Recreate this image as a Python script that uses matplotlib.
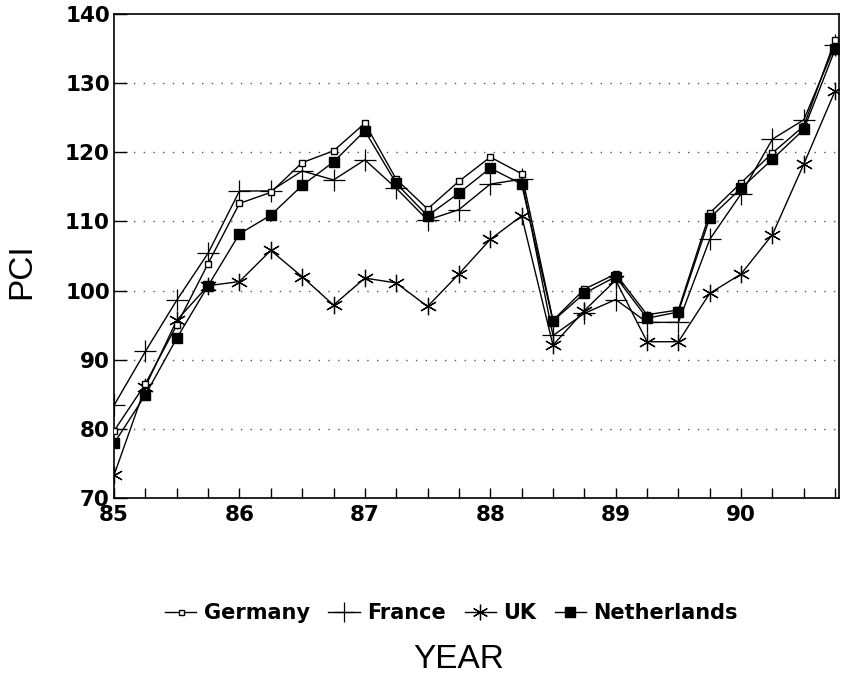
import numpy as np
import matplotlib
matplotlib.use('Agg')
import matplotlib.pyplot as plt

plt.rcParams['font.family'] = ['Liberation Sans', 'DejaVu Sans']

# --- DADOS TRIMESTRAIS (PCI) ---
quarters = [85.0, 85.25, 85.5, 85.75, 86.0, 86.25, 86.5, 86.75,
            87.0, 87.25, 87.5, 87.75, 88.0, 88.25, 88.5, 88.75,
            89.0, 89.25, 89.5, 89.75, 90.0, 90.25, 90.5, 90.75]

germany = [79.7, 86.5, 95.0, 103.9, 112.6, 114.2, 118.5, 120.2,
           124.2, 116.1, 111.8, 115.8, 119.3, 116.9, 95.7, 100.2,
           102.4, 96.5, 97.2, 111.2, 115.6, 119.9, 123.8, 136.3]

france = [83.4, 91.2, 98.6, 105.4, 114.4, 114.4, 117.3, 116.0,
          118.9, 114.8, 110.2, 111.7, 115.4, 116.1, 93.5, 96.7,
          98.7, 95.4, 95.4, 107.4, 114.0, 121.9, 124.7, 135.5]

uk = [73.3, 86.1, 95.7, 100.7, 101.3, 105.8, 102.0, 97.9,
      101.8, 101.1, 97.7, 102.4, 107.4, 110.8, 92.1, 97.1,
      101.5, 92.6, 92.6, 99.6, 102.4, 108.1, 118.3, 128.9]

netherlands = [77.9, 84.9, 93.1, 100.7, 108.2, 110.9, 115.2, 118.6,
               123.1, 115.5, 110.8, 114.1, 117.7, 115.4, 95.6, 99.6,
               102.0, 96.0, 96.9, 110.5, 114.8, 119.0, 123.3, 134.9]

year_ticks = [85, 86, 87, 88, 89, 90]
pci_ticks = [70, 80, 90, 100, 110, 120, 130, 140]

# --- GRAFICO ---
fig = plt.figure(figsize=(8.44, 6.78), dpi=100)
ax = fig.add_axes([0.1351, 0.2655, 0.8589, 0.7139])

ax.plot(quarters, germany, color='black', lw=1.0, marker='s', ms=4,
        mfc='white', mec='black', mew=1.0, label='Germany', zorder=4)
ax.plot(quarters, france, color='black', lw=1.0, marker='+', ms=16,
        mew=0.9, label='France', zorder=3)
ax.plot(quarters, uk, color='black', lw=1.0, marker=(6, 2, 0), ms=12.5,
        mew=0.9, label='UK', zorder=3)
ax.plot(quarters, netherlands, color='black', lw=1.0, marker='s', ms=7.5,
        mfc='black', mec='black', label='Netherlands', zorder=5)

ax.set_xlim(85, 90.78)
ax.set_ylim(70, 140)
ax.set_xticks(year_ticks)
ax.set_xticklabels([str(y) for y in year_ticks])
ax.set_xticks(quarters, minor=True)
ax.set_yticks(pci_ticks)

ax.tick_params(axis='x', which='both', direction='in', length=7, width=1,
               top=False, pad=5)
ax.tick_params(axis='y', which='major', direction='in', length=9, width=1,
               right=False, pad=3)
# rotulos dos eixos em negrito largo
for lbl in ax.get_xticklabels() + ax.get_yticklabels():
    lbl.set_fontfamily('DejaVu Sans')
    lbl.set_fontweight('bold')
    lbl.set_fontsize(15.5)

# grade pontilhada horizontal
for v in pci_ticks[1:-1]:
    ax.axhline(v, color='#555555', lw=1.0, linestyle=(0, (1, 6)), zorder=1)

for s in ax.spines.values():
    s.set_linewidth(1.2)

fig.text(0.026, 0.60, 'PCI', rotation=90, fontsize=24,
         ha='center', va='center')
fig.text(0.544, 0.027, 'YEAR', fontsize=24, ha='center', va='center')

fig.legend(loc='center', bbox_to_anchor=(0.535, 0.096), ncol=4,
           frameon=False, handlelength=1.5, handletextpad=0.35,
           columnspacing=0.9, markerscale=0.9,
           prop={'family': 'DejaVu Sans', 'size': 15, 'weight': 'bold'})

fig.savefig('out.png', dpi=100)
